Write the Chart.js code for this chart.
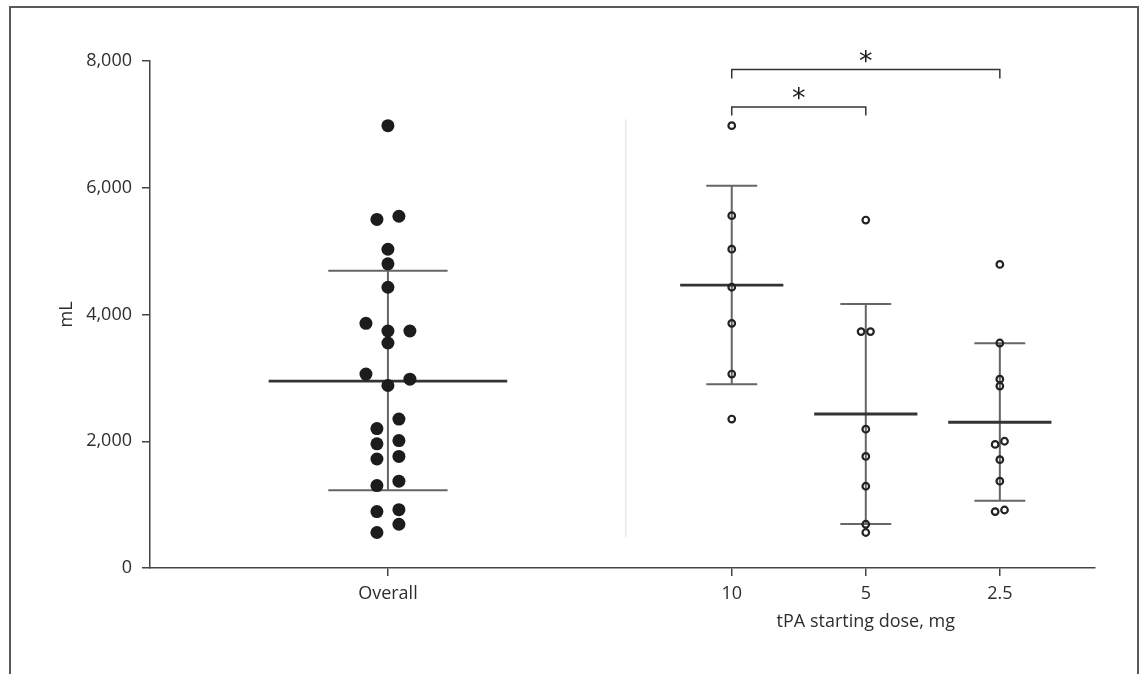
<!DOCTYPE html>
<html>
<head>
<meta charset="utf-8">
<script src="https://cdn.jsdelivr.net/npm/chart.js@4.4.0/dist/chart.umd.min.js"></script>
<style>
  html, body { margin: 0; padding: 0; background: #fff; }
  body { width: 1144px; height: 674px; position: relative; overflow: hidden; }
  #frame { position: absolute; left: 9px; top: 6px; width: 1126px; height: 720px; border: 2px solid #5a5a5a; border-bottom: none; }
  #myChart { position: absolute; left: 0; top: 0; }
</style>
</head>
<body>
<div id="frame"></div>
<canvas id="myChart" width="1144" height="674"></canvas>
<script>
// values (mL)
const groupLabels = ["Overall", "10", "5", "2.5"];
const overallValues = [6980, 5500, 5550, 5030, 4800, 4430, 3860, 3740, 3740, 3550, 3060, 2980, 2880,
  2350, 2200, 1960, 2010, 1720, 1760, 1370, 1300, 890, 920, 690, 560];
const dose10Values = [6980, 5560, 5030, 4430, 3860, 3060, 2350];
const dose5Values = [5490, 3730, 3730, 2190, 1760, 1290, 690, 560];
const dose2_5Values = [4790, 3550, 2980, 2870, 1950, 2000, 1710, 1370, 890, 915];
const groupMeans = [2950, 4465, 2430, 2300];
const groupSdUpper = [4690, 6030, 4165, 3545];
const groupSdLower = [1225, 2900, 695, 1060];
const yTicks = [0, 2000, 4000, 6000, 8000];
const xTitle = "tPA starting dose, mg";
const yTitle = "mL";

// layout only: where each group sits on the x scale and how dots are spread sideways
const groupX = [1.775, 4.34, 5.34, 6.34];
const overallSlots = [0, -1, 1, 0, 0, 0, -2, 0, 2, 0, -2, 2, 0, 1, -1, -1, 1, -1, 1, 1, -1, -1, 1, 1, -1];
const dose10Slots = [0, 0, 0, 0, 0, 0, 0];
const dose5Slots = [0, -1, 1, 0, 0, 0, 0, 0];
const dose2_5Slots = [0, 0, 0, 0, -1, 1, 0, 0, -1, 1];
const meanHalf = [0.89, 0.385, 0.385, 0.385];
const capHalf = [0.445, 0.19, 0.19, 0.19];
// significance brackets between dose groups (group indexes)
const brackets = [
  { from: 1, to: 3, y: 7866, drop: 7724, label: "*" },
  { from: 1, to: 2, y: 7276, drop: 7140, label: "*" }
];

const fontFamily = "'Open Sans', 'Noto Sans', sans-serif";
const textColor = "#2e2e2e";
const axisColor = "#444";

function spread(values, slots, gx, step) {
  return values.map((v, i) => ({ x: gx + slots[i] * step, y: v }));
}

// several segments in one line dataset, broken by null points
function segments(list) {
  let out = [];
  list.forEach(s => {
    out.push({ x: s[0], y: s[1] }, { x: s[2], y: s[3] }, { x: null, y: null });
  });
  return out;
}

let meanSegs = groupMeans.map((m, i) => [groupX[i] - meanHalf[i], m, groupX[i] + meanHalf[i], m]);
let capSegs = [];
groupX.forEach((gx, i) => {
  capSegs.push([gx - capHalf[i], groupSdUpper[i], gx + capHalf[i], groupSdUpper[i]]);
  capSegs.push([gx - capHalf[i], groupSdLower[i], gx + capHalf[i], groupSdLower[i]]);
});
let stemSegs = groupX.map((gx, i) => [gx, groupSdLower[i], gx, groupSdUpper[i]]);

const ringStyle = {
  pointRadius: 3.3,
  pointBackgroundColor: "rgba(0,0,0,0)",
  pointBorderColor: "#222",
  pointBorderWidth: 2.2,
  showLine: false
};
const lineStyle = { showLine: true, pointRadius: 0, spanGaps: false, fill: false };

const extras = {
  id: "extras",
  beforeDatasetsDraw(chart) {
    const ctx = chart.ctx, xs = chart.scales.x, ys = chart.scales.y;
    ctx.save();
    // faint divider between overall and dose groups
    ctx.strokeStyle = "#efefef";
    ctx.lineWidth = 2;
    ctx.beginPath();
    ctx.moveTo(xs.getPixelForValue(3.55), ys.getPixelForValue(7080));
    ctx.lineTo(xs.getPixelForValue(3.55), ys.getPixelForValue(490));
    ctx.stroke();
    ctx.restore();
  },
  afterDatasetsDraw(chart) {
    const ctx = chart.ctx, xs = chart.scales.x, ys = chart.scales.y;
    ctx.save();
    ctx.strokeStyle = "#333";
    ctx.lineWidth = 1.5;
    ctx.fillStyle = "#1a1a1a";
    brackets.forEach(b => {
      const x1 = xs.getPixelForValue(groupX[b.from]);
      const x2 = xs.getPixelForValue(groupX[b.to]);
      const yTop = ys.getPixelForValue(b.y);
      const yDrop = ys.getPixelForValue(b.drop);
      ctx.beginPath();
      ctx.moveTo(x1, yDrop);
      ctx.lineTo(x1, yTop);
      ctx.lineTo(x2, yTop);
      ctx.lineTo(x2, yDrop);
      ctx.stroke();
      ctx.font = "27px 'DejaVu Sans'";
      ctx.textAlign = "center";
      ctx.textBaseline = "middle";
      ctx.fillText(b.label, (x1 + x2) / 2, yTop - 7);
    });
    // x axis title sits under the dose groups only
    ctx.font = "18px " + fontFamily;
    ctx.fillStyle = textColor;
    ctx.textAlign = "center";
    ctx.textBaseline = "middle";
    ctx.fillText(xTitle, xs.getPixelForValue(groupX[2]), xs.top + 54);
    ctx.restore();
  }
};

var ctx = document.getElementById("myChart").getContext("2d");
var chart = new Chart(ctx, {
  type: "scatter",
  data: {
    datasets: [
      {
        label: "Overall",
        data: spread(overallValues, overallSlots, groupX[0], 0.082),
        pointRadius: 6.5,
        pointBackgroundColor: "#1c1c1c",
        pointBorderWidth: 0,
        showLine: false
      },
      Object.assign({ label: "10 mg", data: spread(dose10Values, dose10Slots, groupX[1], 0.035) }, ringStyle),
      Object.assign({ label: "5 mg", data: spread(dose5Values, dose5Slots, groupX[2], 0.035) }, ringStyle),
      Object.assign({ label: "2.5 mg", data: spread(dose2_5Values, dose2_5Slots, groupX[3], 0.035) }, ringStyle),
      Object.assign({ label: "mean", data: segments(meanSegs), borderColor: "#333", borderWidth: 2.8 }, lineStyle),
      Object.assign({ label: "sd caps", data: segments(capSegs), borderColor: "#666", borderWidth: 2 }, lineStyle),
      Object.assign({ label: "sd stems", data: segments(stemSegs), borderColor: "#666", borderWidth: 2 }, lineStyle)
    ]
  },
  options: {
    responsive: false,
    animation: false,
    layout: { padding: { left: 0, right: 49, top: 61, bottom: 0 } },
    plugins: {
      legend: { display: false },
      tooltip: { enabled: false }
    },
    scales: {
      x: {
        type: "linear",
        min: 0,
        max: 7.05,
        afterBuildTicks: scale => { scale.ticks = groupX.map(v => ({ value: v })); },
        afterFit: scale => { scale.height = 106; },
        ticks: {
          autoSkip: false,
          maxRotation: 0,
          padding: 7,
          color: textColor,
          font: { family: fontFamily, size: 18 },
          callback: (v, i) => groupLabels[i]
        },
        grid: { drawOnChartArea: false, drawTicks: true, tickLength: 8, color: axisColor, lineWidth: 1.5 },
        border: { display: true, color: axisColor, width: 1.5 }
      },
      y: {
        min: 0,
        max: 8000,
        afterBuildTicks: scale => { scale.ticks = yTicks.map(v => ({ value: v })); },
        afterFit: scale => { scale.width = 150; },
        ticks: {
          padding: 10,
          color: textColor,
          font: { family: fontFamily, size: 18 },
          callback: v => v.toLocaleString("en-US")
        },
        title: {
          display: true,
          text: yTitle,
          color: textColor,
          font: { family: fontFamily, size: 18 },
          padding: { top: 56, bottom: 0 }
        },
        grid: { drawOnChartArea: false, drawTicks: true, tickLength: 8, color: axisColor, lineWidth: 1.5 },
        border: { display: true, color: axisColor, width: 1.5 }
      }
    }
  },
  plugins: [extras]
});
</script>
</body>
</html>
